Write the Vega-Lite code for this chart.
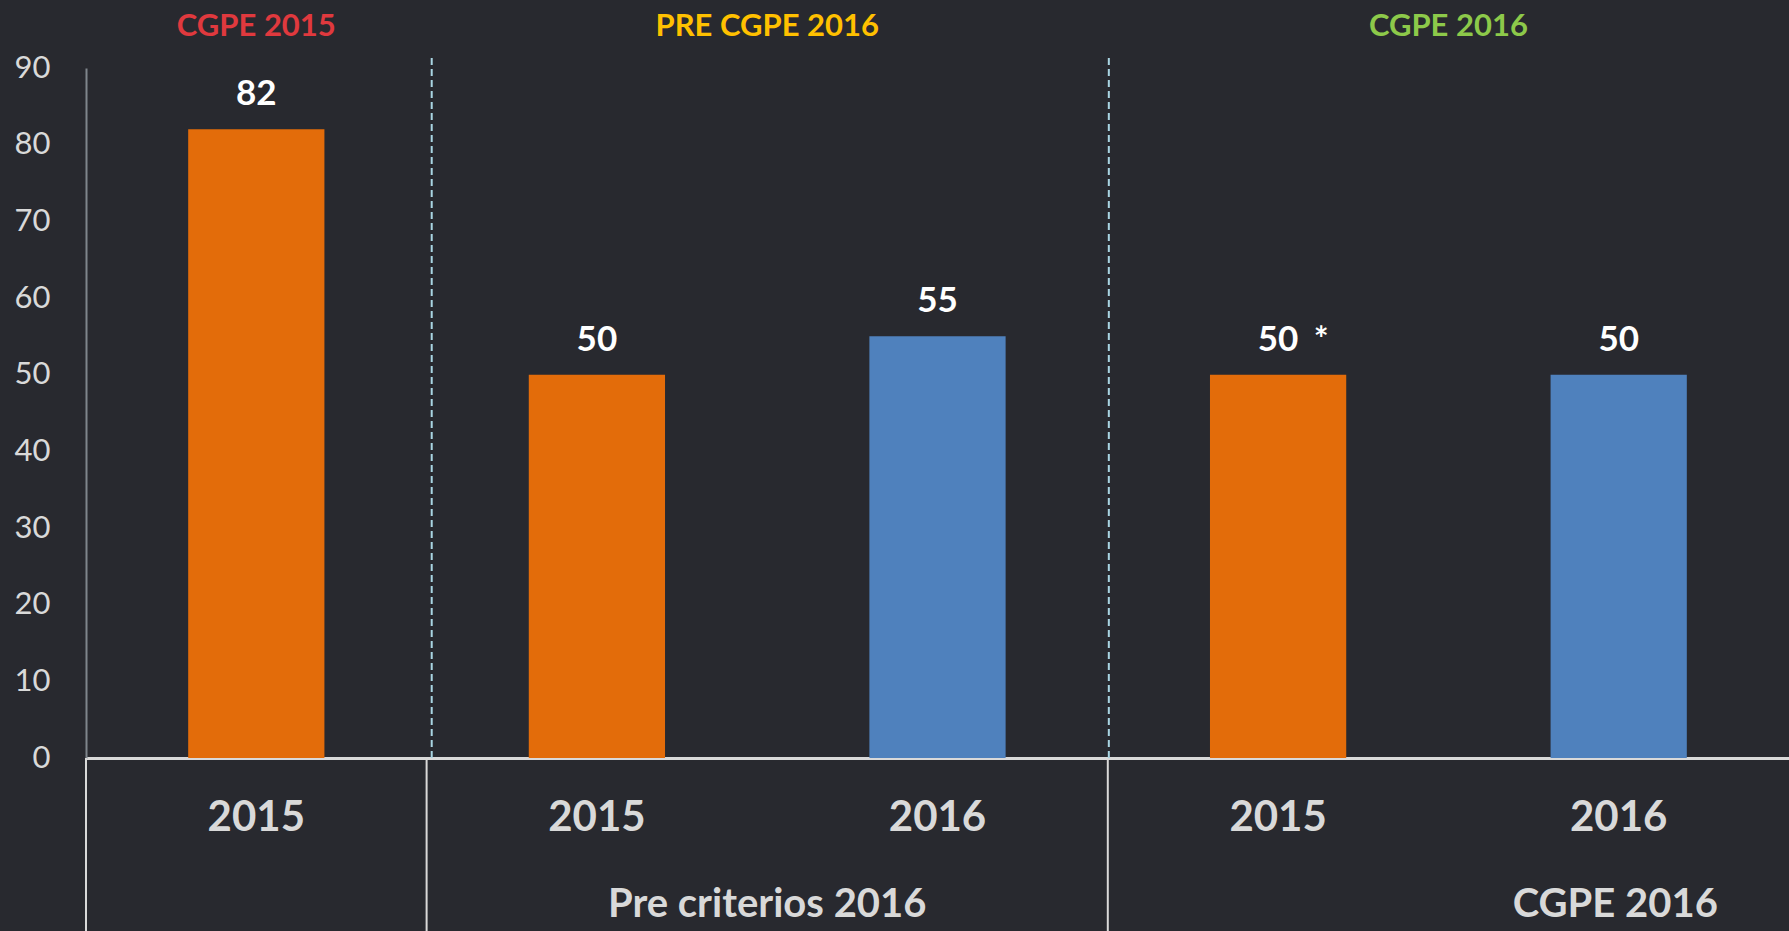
{
  "$schema": "https://vega.github.io/schema/vega-lite/v6.json",
  "width": 1703,
  "height": 690,
  "autosize": {"type": "none"},
  "padding": {"left": 86, "top": 68, "right": 0, "bottom": 173},
  "background": "#28292f",
  "config": {"font": "Lato", "view": {"stroke": null}},
  "datasets": {
    "bars": [
      {"id": "g1|2015", "series": "2015", "value": 82, "note": ""},
      {"id": "g2|2015", "series": "2015", "value": 50, "note": ""},
      {"id": "g2|2016", "series": "2016", "value": 55, "note": ""},
      {"id": "g3|2015", "series": "2015", "value": 50, "note": "*"},
      {"id": "g3|2016", "series": "2016", "value": 50, "note": ""}
    ],
    "headers": [
      {"label": "CGPE 2015", "pos": 0.5},
      {"label": "PRE CGPE 2016", "pos": 2},
      {"label": "CGPE 2016", "pos": 4}
    ],
    "groups": [
      {"label": "Pre criterios 2016", "pos": 2},
      {"label": "CGPE 2016", "pos": 4.49}
    ],
    "dividers": [{"pos": 1.015}, {"pos": 3.003}],
    "tablelines": [{"pos": 0}, {"pos": 1}, {"pos": 3}]
  },
  "layer": [
    {
      "layer": [
        {
          "data": {"name": "bars"},
          "mark": {"type": "bar", "width": {"band": 0.4}},
          "encoding": {
            "x": {
              "field": "id", "type": "nominal", "sort": null,
              "scale": {"paddingInner": 0, "paddingOuter": 0},
              "axis": {
                "title": null,
                "labelExpr": "split(datum.value,'|')[1]",
                "labelFont": "Lato", "labelFontSize": 42, "labelFontWeight": "bold",
                "labelColor": "#d9d9d9", "labelAngle": 0,
                "ticks": false, "tickSize": 0,
                "labelPadding": 59, "labelBaseline": "middle",
                "domainColor": "#d9d9d9", "domainWidth": 3
              }
            },
            "y": {
              "field": "value", "type": "quantitative",
              "scale": {"domain": [0, 90], "nice": false},
              "axis": {
                "title": null,
                "values": [0, 10, 20, 30, 40, 50, 60, 70, 80, 90],
                "labelFont": "Lato", "labelFontSize": 31, "labelColor": "#d9d9d9",
                "ticks": false, "tickSize": 0, "labelPadding": 36,
                "domainColor": "#7f858c", "domainWidth": 2, "grid": false
              }
            },
            "color": {
              "field": "series", "type": "nominal",
              "scale": {"domain": ["2015", "2016"], "range": ["#e36c0a", "#4f81bd"]},
              "legend": null
            }
          }
        },
        {
          "data": {"name": "bars"},
          "mark": {"type": "text", "font": "Lato", "fontWeight": "bold", "fontSize": 35, "color": "#ffffff", "baseline": "alphabetic", "dy": -24},
          "encoding": {
            "x": {"field": "id", "type": "nominal", "sort": null},
            "y": {"field": "value", "type": "quantitative"},
            "text": {"field": "value", "type": "quantitative"}
          }
        },
        {
          "data": {"name": "bars"},
          "transform": [{"filter": "datum.note != ''"}],
          "mark": {"type": "text", "font": "Lato", "fontWeight": "bold", "fontSize": 35, "color": "#ffffff", "baseline": "alphabetic", "dy": -24, "dx": 43},
          "encoding": {
            "x": {"field": "id", "type": "nominal", "sort": null},
            "y": {"field": "value", "type": "quantitative"},
            "text": {"field": "note", "type": "nominal"}
          }
        }
      ]
    },
    {
      "layer": [
        {
          "data": {"name": "dividers"},
          "mark": {"type": "rule", "color": "#a9d5e3", "strokeWidth": 2, "strokeDash": [7, 4]},
          "encoding": {
            "x": {"field": "pos", "type": "quantitative", "scale": {"domain": [0, 5], "nice": false, "zero": false}, "axis": null},
            "y": {"datum": 0, "type": "quantitative"},
            "y2": {"datum": 91.8}
          }
        },
        {
          "data": {"name": "tablelines"},
          "mark": {"type": "rule", "color": "#d9d9d9", "strokeWidth": 2},
          "encoding": {
            "x": {"field": "pos", "type": "quantitative", "axis": null},
            "y": {"datum": 0, "type": "quantitative"},
            "y2": {"datum": -23}
          }
        },
        {
          "data": {"name": "headers"},
          "mark": {"type": "text", "font": "Lato", "fontWeight": "bold", "fontSize": 31, "baseline": "middle"},
          "encoding": {
            "x": {"field": "pos", "type": "quantitative", "axis": null},
            "y": {"datum": 95.4, "type": "quantitative"},
            "text": {"field": "label", "type": "nominal"},
            "color": {
              "field": "label", "type": "nominal",
              "scale": {"domain": ["CGPE 2015", "PRE CGPE 2016", "CGPE 2016"], "range": ["#e0393e", "#ffc000", "#8dc94a"]},
              "legend": null
            }
          }
        },
        {
          "data": {"name": "groups"},
          "mark": {"type": "text", "font": "Lato", "fontWeight": "bold", "fontSize": 40, "baseline": "middle", "color": "#d9d9d9"},
          "encoding": {
            "x": {"field": "pos", "type": "quantitative", "axis": null},
            "y": {"datum": -19.2, "type": "quantitative"},
            "text": {"field": "label", "type": "nominal"}
          }
        }
      ]
    }
  ],
  "resolve": {"scale": {"x": "independent", "color": "independent"}}
}
